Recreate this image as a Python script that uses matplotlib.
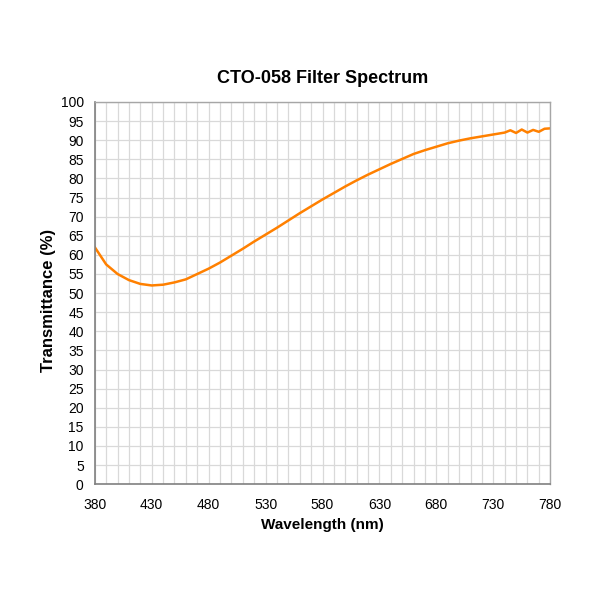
import matplotlib
matplotlib.use("Agg")
import matplotlib.pyplot as plt
import numpy as np

plt.rcParams['font.family'] = ['Liberation Sans', 'DejaVu Sans']

wavelength = [380, 390, 400, 410, 420, 430, 440, 450, 460, 470, 480, 490, 500,
              510, 520, 530, 540, 550, 560, 570, 580, 590, 600, 610, 620, 630,
              640, 650, 660, 670, 680, 690, 700, 710, 720, 730, 740, 745, 750,
              755, 760, 765, 770, 775, 780]
transmittance = [62.0, 57.5, 55.0, 53.4, 52.4, 52.0, 52.2, 52.8, 53.6, 55.0, 56.4,
                 58.0, 59.8, 61.6, 63.5, 65.3, 67.1, 69.0, 70.9, 72.7, 74.5,
                 76.2, 77.9, 79.5, 81.0, 82.4, 83.8, 85.1, 86.4, 87.4, 88.3,
                 89.2, 89.9, 90.5, 91.0, 91.5, 92.0, 92.6, 91.9, 92.8, 92.0,
                 92.7, 92.2, 93.0, 93.1]

fig = plt.figure(figsize=(6, 6), dpi=100)
ax = fig.add_axes([0.158, 0.193, 0.759, 0.637])

ax.plot(wavelength, transmittance, color='#FF8000', linewidth=1.8)

ax.set_xlim(380, 780)
ax.set_ylim(0, 100)
ax.set_xticks(np.arange(380, 781, 50))
ax.set_xticks(np.arange(380, 781, 10), minor=True)
ax.set_yticks(np.arange(0, 101, 5))
ax.grid(True, which='both', color='#d9d9d9', linewidth=0.9)
ax.set_axisbelow(True)
ax.tick_params(which='both', length=0, labelsize=10)
ax.tick_params(axis='x', pad=10)
ax.tick_params(axis='y', pad=8)

for side in ['left', 'bottom']:
    ax.spines[side].set_color('#808080')
    ax.spines[side].set_linewidth(1.2)
for side in ['top', 'right']:
    ax.spines[side].set_color('#a6a6a6')
    ax.spines[side].set_linewidth(1.0)

ax.set_xlabel('Wavelength (nm)', fontsize=11, fontweight='bold', labelpad=4)
ax.set_ylabel('Transmittance (%)', fontsize=12, fontweight='bold')
ax.yaxis.set_label_coords(-0.085, 0.48)
ax.set_title('CTO-058 Filter Spectrum', fontsize=13, fontweight='bold', pad=14)

fig.savefig('out.png', dpi=100)
